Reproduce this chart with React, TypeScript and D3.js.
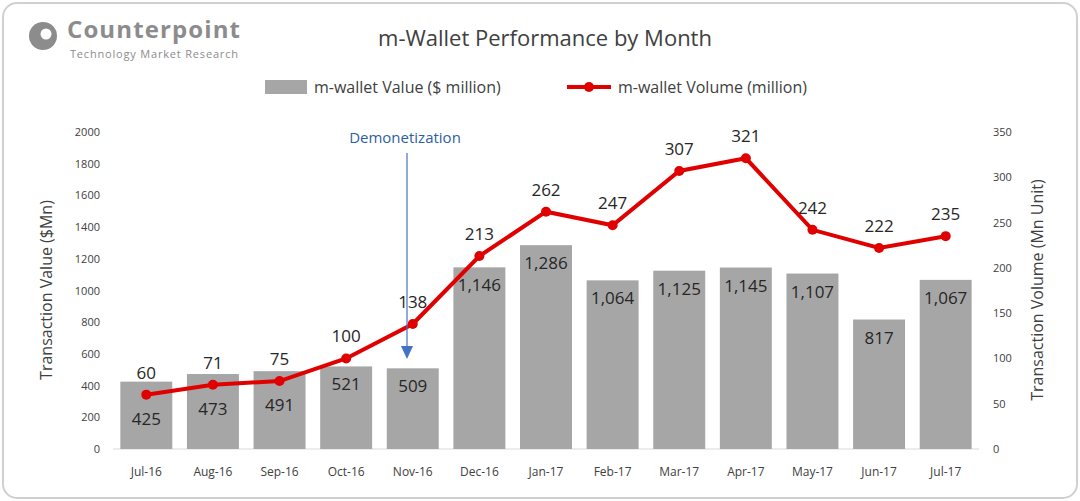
import React from "react";
import * as d3 from "d3";

const months = ["Jul-16","Aug-16","Sep-16","Oct-16","Nov-16","Dec-16","Jan-17","Feb-17","Mar-17","Apr-17","May-17","Jun-17","Jul-17"];
const values = [425,473,491,521,509,1146,1286,1064,1125,1145,1107,817,1067];
const volumes = [60,71,75,100,138,213,262,247,307,321,242,222,235];
const leftTicks = [0,200,400,600,800,1000,1200,1400,1600,1800,2000];
const rightTicks = [0,50,100,150,200,250,300,350];

export default function App() {
  const W = 1080, H = 501;
  const x = d3.scaleBand().domain(months).range([113, 979]).paddingInner(0.22).paddingOuter(0.11);
  const yL = d3.scaleLinear().domain([0, 2000]).range([449, 132]);
  const yR = d3.scaleLinear().domain([0, 350]).range([449, 132]);
  const cx = (m: string) => (x(m) as number) + x.bandwidth() / 2;
  const line = d3.line<number>().x((_, i) => cx(months[i])).y(v => yR(v));
  const font = "'Open Sans', 'Noto Sans', sans-serif";
  return (
    <svg width={W} height={H} style={{ position: "absolute", left: 0, top: 0 }} fontFamily={font}>
      <rect x={0} y={0} width={W} height={H} fill="#fff" />
      <rect x={3} y={3} width={W - 6} height={H - 6} rx={14} fill="none" stroke="#d0d0d0" strokeWidth={2} />
      <circle cx={43} cy={36} r={14} fill="#8c8c8c" />
      <circle cx={46} cy={34} r={5.5} fill="#fff" />
      <text x={67} y={38} fontSize={24} fontWeight="bold" fill="#8c8c8c" textLength={173}>Counterpoint</text>
      <text x={70} y={58} fontSize={11} fill="#8c8c8c" textLength={168}>Technology Market Research</text>
      <text x={545} y={46} fontSize={22} fill="#404040" textAnchor="middle">m-Wallet Performance by Month</text>
      <rect x={265} y={80} width={42} height={14} fill="#a6a6a6" />
      <text x={314} y={93} fontSize={16} fill="#404040">m-wallet Value ($ million)</text>
      <line x1={567} x2={611} y1={87} y2={87} stroke="#e00000" strokeWidth={4} />
      <circle cx={589} cy={87} r={5} fill="#e00000" />
      <text x={618} y={93} fontSize={16} fill="#404040">m-wallet Volume (million)</text>
      <line x1={113} x2={979} y1={449} y2={449} stroke="#d9d9d9" />
      {leftTicks.map(t => (
        <text key={t} x={100} y={yL(t) + 4} fontSize={11} fill="#404040" textAnchor="end">{t}</text>
      ))}
      {rightTicks.map(t => (
        <text key={t} x={993} y={yR(t) + 4} fontSize={11} fill="#404040">{t}</text>
      ))}
      <text transform="translate(52,290) rotate(-90)" fontSize={16} fill="#404040" textAnchor="middle">Transaction Value ($Mn)</text>
      <text transform="translate(1043,290) rotate(-90)" fontSize={16} fill="#404040" textAnchor="middle">Transaction Volume (Mn Unit)</text>
      {months.map((m, i) => (
        <g key={m}>
          <rect x={x(m)} y={yL(values[i])} width={x.bandwidth()} height={449 - yL(values[i])} fill="#a6a6a6" />
          <text x={cx(m)} y={476} fontSize={12} fill="#404040" textAnchor="middle">{m}</text>
          <text x={cx(m)} y={Math.max(yL(values[i]) + 24, Math.min(yL(values[i]) + 60, yR(volumes[i]) + 30))} fontSize={17} fill="#262626" textAnchor="middle">{d3.format(",")(values[i])}</text>
          <text x={cx(m)} y={yR(volumes[i]) - 16} fontSize={17} fill="#262626" textAnchor="middle">{volumes[i]}</text>
        </g>
      ))}
      <path d={line(volumes) as string} fill="none" stroke="#e00000" strokeWidth={4} />
      {volumes.map((v, i) => <circle key={i} cx={cx(months[i])} cy={yR(v)} r={5} fill="#e00000" />)}
      <text x={405} y={143} fontSize={15} fill="#2e5fa0" textAnchor="middle">Demonetization</text>
      <line x1={407} x2={407} y1={153} y2={348} stroke="#4472c4" strokeWidth={1.2} />
      <path d="M401,346 L413,346 L407,359 Z" fill="#4472c4" />
    </svg>
  );
}
